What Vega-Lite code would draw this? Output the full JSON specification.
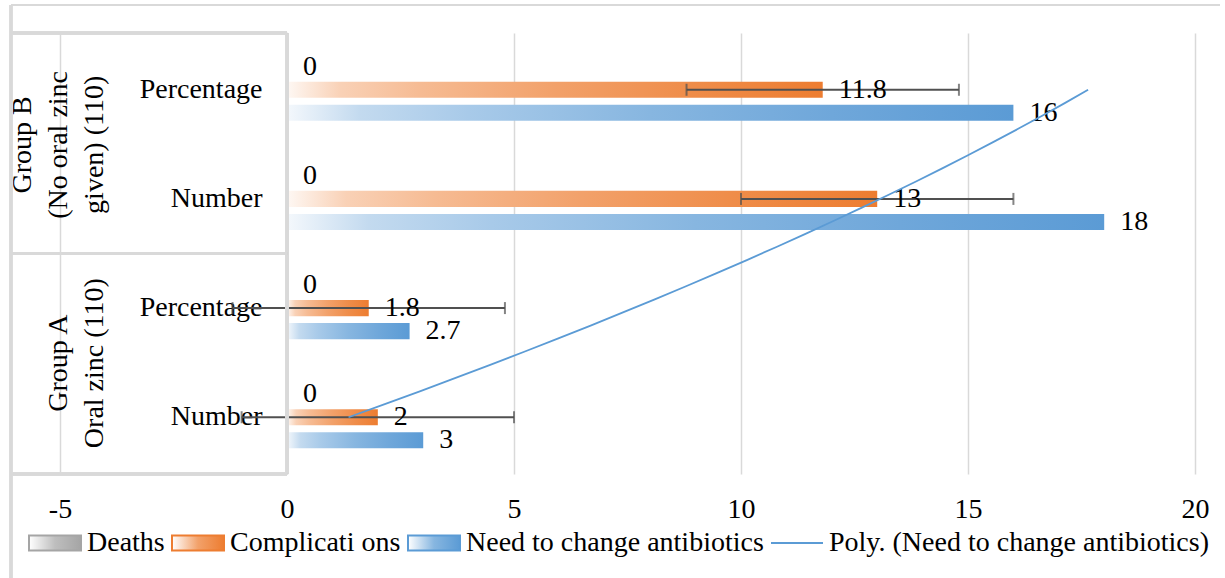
{
  "$schema": "https://vega.github.io/schema/vega-lite/v6.json",
  "width": 1184,
  "height": 441,
  "autosize": {"type": "none"},
  "padding": {"left": 11, "top": 33, "right": 30, "bottom": 104},
  "background": "white",
  "config": {
    "view": {"stroke": null},
    "font": "Liberation Serif",
    "axis": {"labelFont": "Liberation Serif", "labelColor": "#000000"},
    "legend": {"labelFont": "Liberation Serif", "labelColor": "#000000"}
  },
  "data": {
    "values": [
      {"cat": "B|Percentage", "series": "Deaths", "value": 0},
      {"cat": "B|Percentage", "series": "Complicati ons", "value": 11.8, "lo": 8.8, "hi": 14.8},
      {"cat": "B|Percentage", "series": "Need to change antibiotics", "value": 16},
      {"cat": "B|Number", "series": "Deaths", "value": 0},
      {"cat": "B|Number", "series": "Complicati ons", "value": 13, "lo": 10, "hi": 16},
      {"cat": "B|Number", "series": "Need to change antibiotics", "value": 18},
      {"cat": "A|Percentage", "series": "Deaths", "value": 0},
      {"cat": "A|Percentage", "series": "Complicati ons", "value": 1.8, "lo": -1.2, "hi": 4.8},
      {"cat": "A|Percentage", "series": "Need to change antibiotics", "value": 2.7},
      {"cat": "A|Number", "series": "Deaths", "value": 0},
      {"cat": "A|Number", "series": "Complicati ons", "value": 2, "lo": -1, "hi": 5},
      {"cat": "A|Number", "series": "Need to change antibiotics", "value": 3}
    ]
  },
  "layer": [
    {
      "encoding": {
        "y": {
          "field": "cat", "type": "nominal", "sort": null,
          "scale": {"domain": ["B|Percentage", "B|Number", "A|Percentage", "A|Number"], "paddingInner": 0.43, "paddingOuter": 0.235},
          "axis": {"title": null, "orient": "left", "offset": -276, "domain": false, "ticks": false, "tickSize": 0, "grid": false, "labelPadding": 25, "labelFontSize": 28, "labelLimit": 0, "labelExpr": "split(datum.label, '|')[1]"}
        },
        "yOffset": {
          "field": "series", "type": "nominal",
          "scale": {"domain": ["Deaths", "Complicati ons", "Need to change antibiotics"], "paddingInner": 0.3, "paddingOuter": 0}
        }
      },
      "layer": [
        {
          "transform": [{"filter": "datum.series === 'Deaths'"}],
          "mark": {"type": "bar", "color": {"gradient": "linear", "x1": 0, "y1": 0, "x2": 1, "y2": 0, "stops": [{"offset": 0, "color": "#fafafa"}, {"offset": 0.1, "color": "#dfdfdf"}, {"offset": 0.25, "color": "#cfcfcf"}, {"offset": 0.5, "color": "#bebebe"}, {"offset": 0.75, "color": "#b0b0b0"}, {"offset": 1, "color": "#A5A5A5"}]}},
          "encoding": {
            "x": {
              "field": "value", "type": "quantitative",
              "scale": {"domain": [-6.08, 20], "nice": false, "zero": false},
              "axis": {"title": null, "values": [-5, 0, 5, 10, 15, 20], "labelExpr": "toString(datum.value)", "labelFlush": false, "labelOverlap": false, "domain": false, "ticks": false, "labelFontSize": 28, "labelPadding": 21, "grid": true, "gridColor": "#d9d9d9", "gridWidth": 1.5}
            }
          }
        },
        {
          "transform": [{"filter": "datum.series === 'Complicati ons'"}],
          "mark": {"type": "bar", "color": {"gradient": "linear", "x1": 0, "y1": 0, "x2": 1, "y2": 0, "stops": [{"offset": 0, "color": "#fef8f4"}, {"offset": 0.1, "color": "#f9d1b6"}, {"offset": 0.25, "color": "#f6bb93"}, {"offset": 0.5, "color": "#f2a16a"}, {"offset": 0.75, "color": "#ef8d4a"}, {"offset": 1, "color": "#ED7D31"}]}},
          "encoding": {"x": {"field": "value", "type": "quantitative"}}
        },
        {
          "transform": [{"filter": "datum.series === 'Need to change antibiotics'"}],
          "mark": {"type": "bar", "color": {"gradient": "linear", "x1": 0, "y1": 0, "x2": 1, "y2": 0, "stops": [{"offset": 0, "color": "#f4f8fc"}, {"offset": 0.1, "color": "#c3daef"}, {"offset": 0.25, "color": "#a8cae9"}, {"offset": 0.5, "color": "#87b6e0"}, {"offset": 0.75, "color": "#6fa7da"}, {"offset": 1, "color": "#5B9BD5"}]}},
          "encoding": {"x": {"field": "value", "type": "quantitative"}}
        },
        {
          "transform": [{"filter": "datum.lo != null"}],
          "mark": {"type": "rule", "color": "#505050", "strokeWidth": 2},
          "encoding": {
            "x": {"field": "lo", "type": "quantitative"},
            "x2": {"field": "hi"}
          }
        },
        {
          "transform": [{"filter": "datum.lo != null"}],
          "mark": {"type": "tick", "color": "#505050", "size": 12, "thickness": 2},
          "encoding": {"x": {"field": "lo", "type": "quantitative"}}
        },
        {
          "transform": [{"filter": "datum.hi != null"}],
          "mark": {"type": "tick", "color": "#505050", "size": 12, "thickness": 2},
          "encoding": {"x": {"field": "hi", "type": "quantitative"}}
        },
        {
          "mark": {"type": "text", "align": "left", "baseline": "middle", "dx": 16, "fontSize": 28, "font": "Liberation Serif", "color": "#000000"},
          "encoding": {
            "x": {"field": "value", "type": "quantitative"},
            "text": {"field": "value", "type": "nominal"}
          }
        }
      ]
    },
    {
      "encoding": {
        "y": {
          "type": "quantitative",
          "scale": {"domain": [0.48, 4.52], "nice": false, "zero": false},
          "axis": {"title": null, "orient": "left", "values": [1.5, 3.5], "offset": -25, "domain": false, "ticks": false, "tickSize": 0, "grid": false, "labelPadding": 0, "labelAngle": 270, "labelAlign": "center", "labelBaseline": "bottom", "labelFontSize": 28, "labelLineHeight": 36, "labelLimit": 0, "labelOverlap": false, "labelExpr": "datum.value > 2 ? ['Group B', '(No oral zinc', 'given) (110)'] : ['', 'Group A', 'Oral zinc (110)']"}
        }
      },
      "layer": [
        {
          "mark": {"type": "rule", "color": "#d9d9d9", "strokeWidth": 2.5},
          "encoding": {"x": {"datum": -6.08, "type": "quantitative"}, "y": {"datum": 4.7765, "type": "quantitative"}, "y2": {"datum": -0.6}}
        },
        {
          "mark": {"type": "rule", "color": "#d9d9d9", "strokeWidth": 2},
          "encoding": {"y": {"datum": 4.7765, "type": "quantitative"}, "x": {"datum": -6.08, "type": "quantitative"}, "x2": {"datum": 20.55}}
        },
        {
          "mark": {"type": "rule", "color": "#d9d9d9", "strokeWidth": 3},
          "encoding": {"x": {"datum": 0, "type": "quantitative"}}
        },
        {
          "mark": {"type": "rule", "color": "#d9d9d9", "strokeWidth": 3},
          "encoding": {"y": {"datum": 0.48, "type": "quantitative"}, "x": {"datum": -6.08, "type": "quantitative"}, "x2": {"datum": 0}}
        },
        {
          "mark": {"type": "rule", "color": "#d9d9d9", "strokeWidth": 3},
          "encoding": {"y": {"datum": 2.5, "type": "quantitative"}, "x": {"datum": -6.08, "type": "quantitative"}, "x2": {"datum": 0}}
        },
        {
          "mark": {"type": "rule", "color": "#d9d9d9", "strokeWidth": 3},
          "encoding": {"y": {"datum": 4.52, "type": "quantitative"}, "x": {"datum": -6.08, "type": "quantitative"}, "x2": {"datum": 0}}
        },
        {
          "transform": [
            {"filter": "datum.series === 'Need to change antibiotics'"},
            {"window": [{"op": "row_number", "as": "idx"}], "sort": [{"field": "cat", "order": "ascending"}]},
            {"regression": "value", "on": "idx", "method": "poly", "order": 2, "extent": [1, 4]}
          ],
          "mark": {"type": "line", "strokeWidth": 1.8},
          "encoding": {
            "x": {"field": "value", "type": "quantitative"},
            "y": {"field": "idx", "type": "quantitative"},
            "order": {"field": "idx"},
            "stroke": {
              "datum": "Poly. (Need to change antibiotics)",
              "type": "nominal",
              "scale": {"domain": ["Deaths", "Complicati ons", "Need to change antibiotics", "Poly. (Need to change antibiotics)"], "range": ["#A5A5A5", "#ED7D31", "#5B9BD5", "#5B9BD5"]},
              "legend": {
                "title": null, "orient": "none", "legendX": 17, "legendY": 483, "direction": "horizontal",
                "padding": 0, "columnPadding": 3, "labelOffset": 5, "labelFontSize": 28, "labelLimit": 0,
                "symbolSize": 2704, "symbolStrokeWidth": 2,
                "encode": {
                  "symbols": {
                    "update": {
                      "shape": {"signal": "datum.value === 'Poly. (Need to change antibiotics)' ? 'M-1,0H1' : 'M-1,-0.29H1V0.29H-1Z'"},
                      "fill": {"signal": "datum.value === 'Deaths' ? {gradient: 'linear', x1: 0, y1: 0, x2: 1, y2: 0, stops: [{offset: 0, color: '#ffffff'}, {offset: 0.5, color: '#bebebe'}, {offset: 1, color: '#A5A5A5'}]} : datum.value === 'Complicati ons' ? {gradient: 'linear', x1: 0, y1: 0, x2: 1, y2: 0, stops: [{offset: 0, color: '#ffffff'}, {offset: 0.5, color: '#f2a16a'}, {offset: 1, color: '#ED7D31'}]} : datum.value === 'Need to change antibiotics' ? {gradient: 'linear', x1: 0, y1: 0, x2: 1, y2: 0, stops: [{offset: 0, color: '#ffffff'}, {offset: 0.5, color: '#87b6e0'}, {offset: 1, color: '#5B9BD5'}]} : 'transparent'"},
                      "stroke": {"signal": "datum.value === 'Poly. (Need to change antibiotics)' ? '#5B9BD5' : 'transparent'"},
                      "strokeWidth": {"value": 2},
                      "opacity": {"value": 1}
                    }
                  }
                }
              }
            }
          }
        }
      ]
    }
  ],
  "resolve": {"scale": {"y": "independent"}}
}
